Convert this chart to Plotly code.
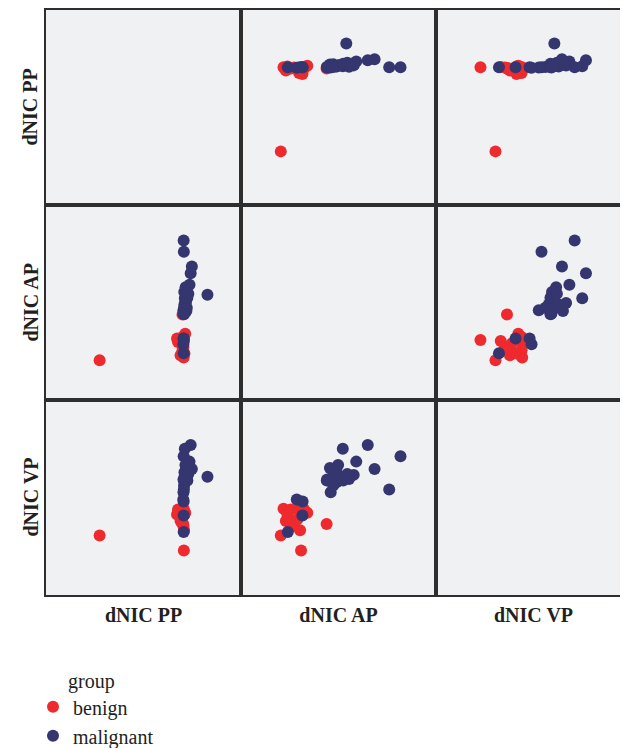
import plotly.graph_objects as go
from plotly.subplots import make_subplots

variables = ["dNIC PP", "dNIC AP", "dNIC VP"]
groups = ["benign", "malignant"]
group_colors = ["#ee2a2e", "#35356f"]

# benign observations
benign_pp = [0.275, 0.707, 0.700, 0.706, 0.700, 0.677, 0.714, 0.690, 0.705, 0.672, 0.710, 0.700, 0.695, 0.708, 0.703]
benign_ap = [0.204, 0.308, 0.439, 0.218, 0.255, 0.298, 0.340, 0.230, 0.272, 0.315, 0.238, 0.323, 0.289, 0.303, 0.252]
benign_vp = [0.305, 0.228, 0.364, 0.442, 0.439, 0.439, 0.422, 0.379, 0.354, 0.413, 0.413, 0.439, 0.388, 0.332, 0.366]

# malignant observations
malignant_pp = [0.706, 0.707, 0.748, 0.742, 0.736, 0.828, 0.712, 0.715, 0.705, 0.708, 0.720, 0.712, 0.718,
                0.708, 0.722, 0.710, 0.725, 0.716, 0.709, 0.706, 0.706, 0.704, 0.706, 0.730, 0.705]
malignant_ap = [0.818, 0.760, 0.685, 0.650, 0.591, 0.540, 0.522, 0.498, 0.460, 0.440, 0.456, 0.490, 0.507,
                0.473, 0.473, 0.490, 0.524, 0.578, 0.554, 0.315, 0.316, 0.286, 0.240, 0.545, 0.442]
malignant_vp = [0.711, 0.541, 0.646, 0.769, 0.684, 0.607, 0.750, 0.667, 0.527, 0.587, 0.651, 0.578, 0.604,
                0.561, 0.612, 0.629, 0.587, 0.616, 0.595, 0.408, 0.480, 0.490, 0.323, 0.620, 0.592]

data = {
    "benign": {"dNIC PP": benign_pp, "dNIC AP": benign_ap, "dNIC VP": benign_vp},
    "malignant": {"dNIC PP": malignant_pp, "dNIC AP": malignant_ap, "dNIC VP": malignant_vp},
}

fig = make_subplots(rows=3, cols=3, horizontal_spacing=0, vertical_spacing=0)

serif = "Liberation Serif"
text_color = "#231f20"

for r, yvar in enumerate(variables, start=1):
    for c, xvar in enumerate(variables, start=1):
        if r == c:
            # empty diagonal panel (keeps the panel frame and background)
            fig.add_trace(go.Scatter(x=[], y=[], mode="markers", showlegend=False,
                                     hoverinfo="skip"), row=r, col=c)
            continue
        for g, col in zip(groups, group_colors):
            fig.add_trace(go.Scatter(
                x=data[g][xvar], y=data[g][yvar], mode="markers",
                marker=dict(size=12, color=col, line=dict(width=0)),
                name=g, showlegend=(r == 1 and c == 2),
            ), row=r, col=c)

axis_style = dict(range=[0, 1], showgrid=False, zeroline=False, showticklabels=False,
                  ticks="", showline=True, mirror=True, linecolor="#2e2e2e", linewidth=2,
                  automargin=True)
fig.update_xaxes(**axis_style)
fig.update_yaxes(**axis_style)

title_font = dict(family=serif, size=20, color=text_color)
for c, v in enumerate(variables, start=1):
    fig.update_xaxes(title=dict(text=f"<b>{v}</b>", font=title_font, standoff=12), row=3, col=c)

L, T, PW, PH = 38, 2, 585, 585

# row labels (y-axis titles) at the left of the first column
row_titles = []
for r, v in enumerate(variables):
    row_titles.append(dict(text=f"<b>{v}</b>", xref="paper", yref="paper",
                           x=(22 - L) / PW, y=1 - (r + 0.5) / 3,
                           xanchor="center", yanchor="middle", textangle=-90,
                           showarrow=False, font=title_font))

fig.update_layout(
    width=628, height=748,
    margin=dict(l=L, r=628 - L - PW, t=T, b=748 - T - PH, autoexpand=False),
    plot_bgcolor="#f0f1f3", paper_bgcolor="white",
    font=dict(family=serif, size=20, color=text_color),
    legend=dict(
        orientation="v", x=25 / 628, xref="container", xanchor="left",
        y=0.001, yref="container", yanchor="bottom",
        font=dict(family=serif, size=20, color=text_color),
        bgcolor="rgba(0,0,0,0)", tracegroupgap=0,
    ),
    annotations=row_titles + [dict(text="group", xref="paper", yref="paper",
                                   x=(58 - L) / PW, y=-(673 - (T + PH)) / PH,
                                   xanchor="left", yanchor="middle", showarrow=False,
                                   font=dict(family=serif, size=20, color=text_color))],
)

fig.write_html("out.html")
